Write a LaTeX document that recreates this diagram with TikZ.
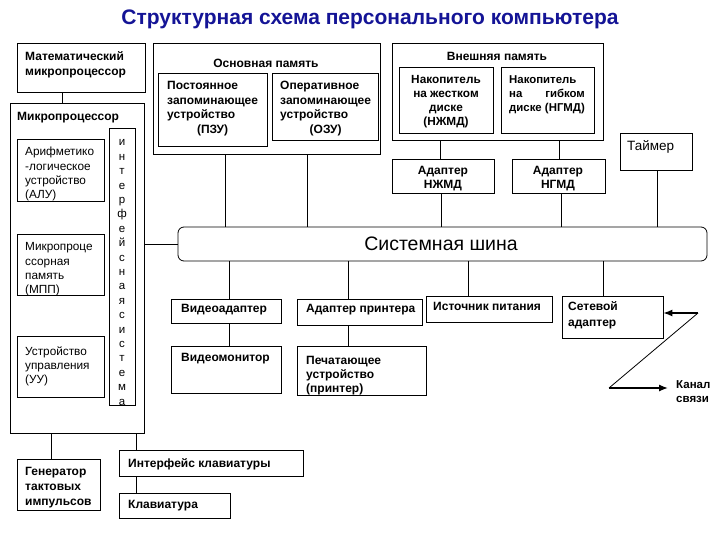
\documentclass[tikz,border=0pt]{standalone}
\usepackage{fontspec}
\setmainfont{Liberation Sans}
\usetikzlibrary{fit,arrows.meta}
\newcommand\tl[1]{\begin{tabular}[t]{@{}l@{}}#1\end{tabular}}
\newcommand\tcen[1]{\begin{tabular}[t]{@{}c@{}}#1\end{tabular}}
\newlength\ngw
\definecolor{titleblue}{RGB}{20,20,150}
\begin{document}
\begin{tikzpicture}[x=1pt,y=-1pt,
  box/.style={draw, line width=0.8pt, inner sep=0pt},
  ln/.style={line width=0.8pt},
  arr/.style={line width=1.3pt, -{Latex[length=9pt,width=7pt]}},
  bt/.style={inner sep=0pt, anchor=base west, font=\fontsize{12}{14.5}\selectfont\bfseries},
  rt/.style={inner sep=0pt, anchor=base west, font=\fontsize{11.8}{14.2}\selectfont},
  ct/.style={inner sep=0pt, anchor=base, font=\fontsize{12}{14}\selectfont\bfseries}]
\useasboundingbox (0,0) rectangle (720,540);
\fill[white] (0,0) rectangle (720,540);

% title
\node[inner sep=0pt, font=\fontsize{21}{24}\selectfont\bfseries, text=titleblue] (title) at (370,19) {Структурная схема персонального компьютера};

% left: processor
\node[box, fit={(17,43)(145,92)}] (mm) {};
\node[bt] (mmt) at (25,61) {\tl{Математический\\микропроцессор}};
\node[box, fit={(10,103)(144,433)}] (mp) {};
\node[bt] (mpt) at (17,121) {Микропроцессор};
\node[box, fit={(17,139)(104,201)}] (alu) {};
\node[rt] (alut) at (25,156) {\tl{Арифметико\\-логическое\\устройство\\(АЛУ)}};
\node[box, fit={(17,234)(104,295)}] (mpp) {};
\node[rt] (mppt) at (25,251) {\tl{Микропроце\\ссорная\\память\\(МПП)}};
\node[box, fit={(17,336)(104,397)}] (uu) {};
\node[rt] (uut) at (25,355) {\tl{Устройство\\управления\\(УУ)}};
\node[box, fit={(109,128)(135,405)}] (isys) {};
\node[inner sep=0pt, anchor=base, font=\fontsize{11.5}{14.4}\selectfont] (isyst) at (122,146)
  {\tcen{и\\н\\т\\е\\р\\ф\\е\\й\\с\\н\\а\\я\\с\\и\\с\\т\\е\\м\\а}};

% main memory
\node[box, fit={(153,43)(380,154)}] (osn) {};
\node[ct] (osnt) at (266,68) {Основная память};
\node[box, fit={(158,73)(267,146)}] (pzu) {};
\node[bt] (pzut) at (167,90) {\tl{Постоянное\\запоминающее\\устройство\\\multicolumn{1}{@{}c@{}}{(ПЗУ)}}};
\node[box, fit={(272,73)(378,140)}] (ozu) {};
\node[bt] (ozut) at (280,90) {\tl{Оперативное\\запоминающее\\устройство\\\multicolumn{1}{@{}c@{}}{(ОЗУ)}}};

% external memory
\node[box, fit={(392,43)(603,140)}] (vn) {};
\node[ct] (vnt) at (497,61) {Внешняя память};
\node[box, fit={(399,67)(493,133)}] (nj) {};
\node[ct, font=\fontsize{11.8}{13.7}\selectfont\bfseries] (njt) at (446,84) {\tcen{Накопитель\\на жестком\\диске\\(НЖМД)}};
\node[box, fit={(501,67)(594,133)}] (ng) {};
\node[bt, font=\fontsize{11.4}{13.7}\selectfont\bfseries] (ngt) at (509,84)
  {\settowidth{\ngw}{диске (НГМД)}\tl{Накопитель\\\hbox to \ngw{на\hfill гибком}\\диске (НГМД)}};

% adapters, timer
\node[box, fit={(392,159)(494,193)}] (anj) {};
\node[ct] (anjt) at (443,175) {\tcen{Адаптер\\НЖМД}};
\node[box, fit={(512,159)(605,193)}] (ang) {};
\node[ct] (angt) at (558,175) {\tcen{Адаптер\\НГМД}};
\node[box, fit={(620,133)(692,170)}] (tim) {};
\node[inner sep=0pt, anchor=base west, font=\fontsize{13.5}{16}\selectfont] (timt) at (627,151) {Таймер};

% bus
\node[box, rounded corners=6pt, fit={(178,227)(707,261)}] (bus) {};
\node[inner sep=0pt, font=\fontsize{19.5}{22}\selectfont] (bust) at (441,244) {Системная шина};

% lower devices
\node[box, fit={(171,299)(281,323)}] (va) {};
\node[bt] (vat) at (181,312) {Видеоадаптер};
\node[box, fit={(297,299)(422,325)}] (ap) {};
\node[bt] (apt) at (306,312) {Адаптер принтера};
\node[box, fit={(426,296)(552,322)}] (ip) {};
\node[bt] (ipt) at (433,310) {Источник питания};
\node[box, fit={(562,296)(663,338)}] (sa) {};
\node[bt, font=\fontsize{12}{16}\selectfont\bfseries] (sat) at (568,310) {\tl{Сетевой\\адаптер}};
\node[box, fit={(171,346)(281,393)}] (vm) {};
\node[bt] (vmt) at (181,361) {Видеомонитор};
\node[box, fit={(297,346)(426,395)}] (pr) {};
\node[bt, font=\fontsize{12}{14}\selectfont\bfseries] (prt) at (306,364) {\tl{Печатающее\\устройство\\(принтер)}};
\node[bt, font=\fontsize{11.5}{14}\selectfont\bfseries] (kan) at (676,388) {\tl{Канал\\связи}};

% bottom
\node[box, fit={(17,459)(100,510)}] (gen) {};
\node[bt, font=\fontsize{12}{15}\selectfont\bfseries] (gent) at (25,475) {\tl{Генератор\\тактовых\\импульсов}};
\node[box, fit={(119,450)(303,476)}] (ik) {};
\node[bt] (ikt) at (128,467) {Интерфейс клавиатуры};
\node[box, fit={(119,493)(230,518)}] (kl) {};
\node[bt] (klt) at (128,508) {Клавиатура};

% connectors
\draw[ln] (62,0 |- mm.south) -- (62,0 |- mp.north);
\draw[ln] (225,0 |- osn.south) -- (225,0 |- bus.north);
\draw[ln] (307,0 |- osn.south) -- (307,0 |- bus.north);
\draw[ln] (440,0 |- vn.south) -- (440,0 |- anj.north);
\draw[ln] (559,0 |- vn.south) -- (559,0 |- ang.north);
\draw[ln] (441,0 |- anj.south) -- (441,0 |- bus.north);
\draw[ln] (561,0 |- ang.south) -- (561,0 |- bus.north);
\draw[ln] (657,0 |- tim.south) -- (657,0 |- bus.north);
\draw[ln] (mp.east |- bus.west) -- (bus.west);
\draw[ln] (229,0 |- bus.south) -- (229,0 |- va.north);
\draw[ln] (229,0 |- va.south) -- (229,0 |- vm.north);
\draw[ln] (348,0 |- bus.south) -- (348,0 |- ap.north);
\draw[ln] (348,0 |- ap.south) -- (348,0 |- pr.north);
\draw[ln] (468,0 |- bus.south) -- (468,0 |- ip.north);
\draw[ln] (603,0 |- bus.south) -- (603,0 |- sa.north);
\draw[ln] (51,0 |- mp.south) -- (51,0 |- gen.north);
\draw[ln] (136,0 |- mp.south) -- (136,0 |- ik.north);
\draw[ln] (136,0 |- ik.south) -- (136,0 |- kl.north);

\coordinate (zr) at (698,313);
\coordinate (zl) at (609,388);
\coordinate (ze) at (668,388);
\draw[arr] (zr) -- (sa.east |- zr);
\draw[ln] (zr) -- (zl);
\draw[arr] (zl) -- (ze);
\end{tikzpicture}
\end{document}
